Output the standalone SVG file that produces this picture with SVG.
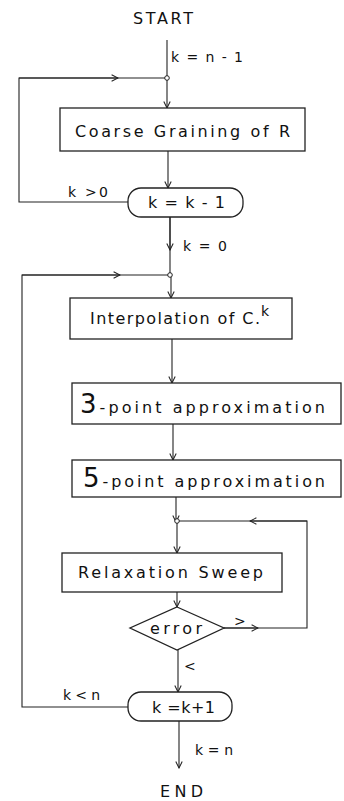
<svg xmlns="http://www.w3.org/2000/svg" width="344" height="801" viewBox="0 0 344 801">
<defs>
<style>
text{font-family:"DejaVu Sans","Liberation Sans",sans-serif;fill:#111;}
.t{font-size:16px;}
.s{font-size:14px;}
.box{fill:#fff;stroke:#222;stroke-width:1.3;}
.ln{fill:none;stroke:#222;stroke-width:1.1;}
.jn{fill:#fff;stroke:#222;stroke-width:1;}
</style>
<marker id="ah" viewBox="0 0 10 10" refX="9" refY="5" markerWidth="8" markerHeight="8" orient="auto" markerUnits="userSpaceOnUse">
<path d="M1,1 L9,5 L1,9" fill="none" stroke="#222" stroke-width="1.3"/>
</marker>
</defs>
<rect width="344" height="801" fill="#fff"/>
<g id="connectors">
<line class="ln" x1="167" y1="40" x2="167" y2="77"/>
<line class="ln" x1="167" y1="77" x2="167" y2="108" marker-end="url(#ah)"/>
<line class="ln" x1="168" y1="151" x2="168" y2="188" marker-end="url(#ah)"/>
<polyline class="ln" points="128,202 19,202 19,78 167,78"/>
<line class="ln" x1="19" y1="78" x2="118" y2="78" marker-end="url(#ah)"/>
<line class="ln" x1="170" y1="217" x2="170" y2="275"/>
<line class="ln" x1="170" y1="217" x2="170" y2="250" marker-end="url(#ah)"/>
<line class="ln" x1="171" y1="275" x2="171" y2="298" marker-end="url(#ah)"/>
<polyline class="ln" points="128,707 22,707 22,275 170,275"/>
<line class="ln" x1="22" y1="275" x2="120" y2="275" marker-end="url(#ah)"/>
<line class="ln" x1="172" y1="339" x2="172" y2="383" marker-end="url(#ah)"/>
<line class="ln" x1="173" y1="424" x2="173" y2="460" marker-end="url(#ah)"/>
<line class="ln" x1="176" y1="497" x2="176" y2="522" marker-end="url(#ah)"/>
<line class="ln" x1="177" y1="522" x2="177" y2="553" marker-end="url(#ah)"/>
<line class="ln" x1="177" y1="592" x2="177" y2="607" marker-end="url(#ah)"/>
<polyline class="ln" points="224,628 307,628 307,521 177,521"/>
<line class="ln" x1="224" y1="628" x2="258" y2="628" marker-end="url(#ah)"/>
<line class="ln" x1="307" y1="521" x2="250" y2="521" marker-end="url(#ah)"/>
<line class="ln" x1="178" y1="650" x2="178" y2="692" marker-end="url(#ah)"/>
<line class="ln" x1="179" y1="721" x2="179" y2="768" marker-end="url(#ah)"/>
<circle class="jn" cx="167" cy="78" r="2.3"/>
<circle class="jn" cx="170" cy="275" r="2.3"/>
<circle class="jn" cx="177" cy="521" r="2.3"/>
</g>
<g id="start">
<text class="t" x="133" y="24" textLength="60" lengthAdjust="spacing">START</text>
</g>
<g id="label-k-n-1">
<text class="s" x="171" y="62" textLength="72" lengthAdjust="spacing">k = n - 1</text>
</g>
<g id="coarse">
<rect class="box" x="60" y="108" width="245" height="43"/>
<text class="t" x="75" y="137" textLength="215" lengthAdjust="spacing">Coarse Graining of R</text>
</g>
<g id="k-dec">
<rect class="box" x="128" y="188" width="115" height="29" rx="13"/>
<text class="t" x="148" y="208" textLength="77" lengthAdjust="spacing">k = k - 1</text>
</g>
<g id="label-kgt0">
<text class="s" x="68" y="197" textLength="40" lengthAdjust="spacing">k &gt;0</text>
</g>
<g id="label-k0">
<text class="s" x="183" y="251" textLength="44" lengthAdjust="spacing">k = 0</text>
</g>
<g id="interpolation">
<rect class="box" x="70" y="298" width="222" height="41"/>
<text class="t" x="90" y="324" textLength="170" lengthAdjust="spacing">Interpolation of C.</text>
<text class="s" x="261" y="316">k</text>
</g>
<g id="three-point">
<rect class="box" x="72" y="383" width="269" height="41"/>
<text x="80" y="413" textLength="245" lengthAdjust="spacing"><tspan font-size="26">3</tspan><tspan font-size="16">-point approximation</tspan></text>
</g>
<g id="five-point">
<rect class="box" x="72" y="460" width="269" height="37"/>
<text x="83" y="487" textLength="242" lengthAdjust="spacing"><tspan font-size="26">5</tspan><tspan font-size="16">-point approximation</tspan></text>
</g>
<g id="relaxation">
<rect class="box" x="62" y="553" width="220" height="39"/>
<text class="t" x="78" y="578" textLength="185" lengthAdjust="spacing">Relaxation Sweep</text>
</g>
<g id="error">
<polygon class="box" points="177,607 224,628 177,650 130,628"/>
<text class="t" x="150" y="634" textLength="52" lengthAdjust="spacing">error</text>
<text class="s" x="234" y="626">&gt;</text>
<text class="s" x="184" y="671">&lt;</text>
</g>
<g id="k-inc">
<rect class="box" x="128" y="692" width="104" height="29" rx="13"/>
<text class="t" x="152" y="713" textLength="63" lengthAdjust="spacing">k =k+1</text>
</g>
<g id="label-kltn">
<text class="s" x="63" y="700" textLength="37" lengthAdjust="spacing">k&lt;n</text>
</g>
<g id="label-kn">
<text class="s" x="195" y="755" textLength="38" lengthAdjust="spacing">k = n</text>
</g>
<g id="end">
<text class="t" x="160" y="797" textLength="43" lengthAdjust="spacing">END</text>
</g>
</svg>
